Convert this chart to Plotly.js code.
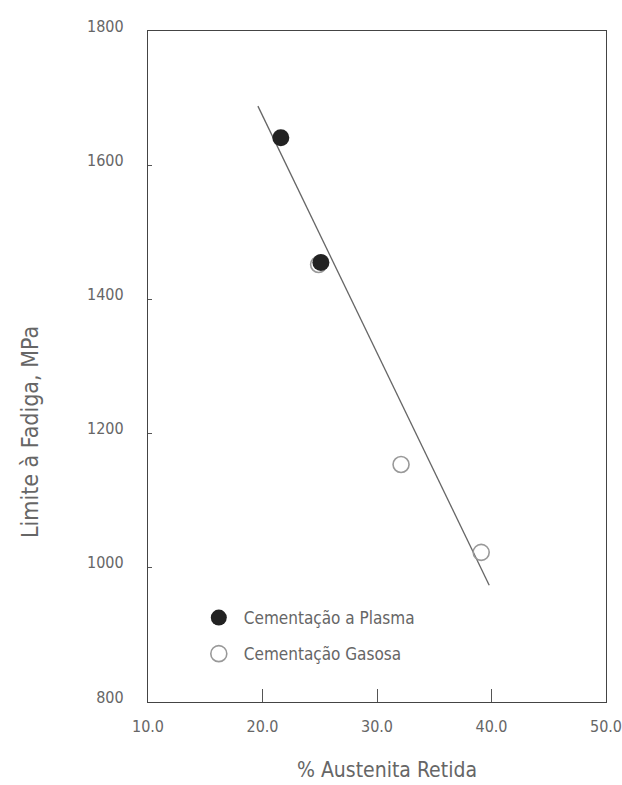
<!DOCTYPE html>
<html>
<head>
<meta charset="utf-8">
<script src="https://cdn.plot.ly/plotly-3.0.1.min.js"></script>
<style>html,body{margin:0;padding:0;background:#fff;}#chart{width:622px;height:785px;}</style>
</head>
<body>
<div id="chart"></div>
<script>
const plasmaX = [21.6, 25.1];
const plasmaY = [1641, 1455];
const gasX = [24.9, 32.1, 39.1];
const gasY = [1452, 1154, 1023];
const fitX = [19.6, 39.8];
const fitY = [1688, 974];
const xTicks = [10, 20, 30, 40, 50];
const yTicks = [800, 1000, 1200, 1400, 1600, 1800];

const font = "'DejaVu Sans Condensed', 'Liberation Sans Narrow', sans-serif";
const grey = '#666';

const traces = [
  {x: fitX, y: fitY, mode: 'lines', line: {color: '#666', width: 1.3}, showlegend: false, hoverinfo: 'skip'},
  {x: gasX, y: gasY, mode: 'markers', name: 'Cementação Gasosa', legendgroup: 'g', legendrank: 2,
   marker: {symbol: 'circle-open', size: 16, color: '#999', line: {width: 1.6, color: '#999'}}},
  {x: plasmaX, y: plasmaY, mode: 'markers', name: 'Cementação a Plasma', legendgroup: 'p', legendrank: 1,
   marker: {symbol: 'circle', size: 17, color: '#222', line: {width: 0}}}
];

const layout = {
  width: 622, height: 785,
  margin: {l: 148, r: 16, t: 31, b: 83},
  paper_bgcolor: '#fff', plot_bgcolor: '#fff',
  font: {family: font, color: grey, size: 16},
  showlegend: true,
  legend: {x: 0.1, y: 0.152, xanchor: 'left', yanchor: 'top', traceorder: 'grouped',
           tracegroupgap: 11, itemwidth: 40, font: {family: font, size: 17, color: grey}, bgcolor: 'rgba(0,0,0,0)'},
  xaxis: {range: [10, 50], tickvals: xTicks, tickformat: '.1f', showgrid: false, zeroline: false,
          showline: true, linecolor: '#444', linewidth: 1.2, mirror: true,
          ticks: 'inside', ticklen: 13, tickcolor: '#555', ticklabelstandoff: 10, ticklabeloverflow: 'allow',
          tickfont: {family: font, size: 16, color: grey}},
  yaxis: {range: [800, 1800], tickvals: yTicks, showgrid: false, zeroline: false,
          showline: true, linecolor: '#444', linewidth: 1.2, mirror: true,
          ticks: 'inside', ticklen: 4, tickcolor: '#555', ticklabelstandoff: 20, ticklabelshift: -5,
          ticklabeloverflow: 'allow',
          tickfont: {family: font, size: 16, color: grey}},
  annotations: [
    {text: '% Austenita Retida', xref: 'paper', yref: 'paper', x: (387 - 148) / 458, y: -(770 - 702) / 671,
     xanchor: 'center', yanchor: 'middle', showarrow: false, font: {family: font, size: 21, color: grey}},
    {text: 'Limite à Fadiga, MPa', xref: 'paper', yref: 'paper', x: (30 - 148) / 458, y: (702 - 432) / 671,
     xanchor: 'center', yanchor: 'middle', textangle: -90, showarrow: false, font: {family: font, size: 23, color: grey}}
  ]
};

Plotly.newPlot('chart', traces, layout, {displayModeBar: false, staticPlot: true});
</script>
</body>
</html>
